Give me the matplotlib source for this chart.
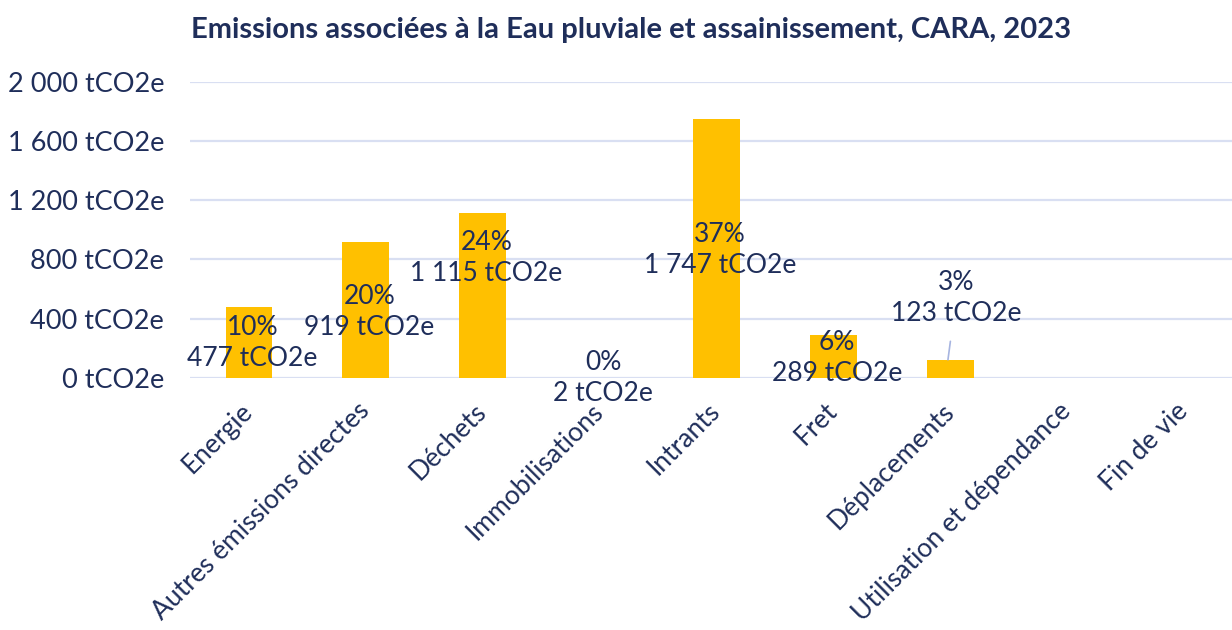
"""Emissions associées à l'eau pluviale et assainissement (CARA, 2023) — barres par poste."""

import matplotlib

matplotlib.use("Agg")
import matplotlib.pyplot as plt

POSTES = [
    "Energie",
    "Autres émissions directes",
    "Déchets",
    "Immobilisations",
    "Intrants",
    "Fret",
    "Déplacements",
    "Utilisation et dépendance",
    "Fin de vie",
]
EMISSIONS = [477, 919, 1115, 2, 1747, 289, 123, 0, 0]  # tCO2e
PARTS = [10, 20, 24, 0, 37, 6, 3, None, None]  # % du total
GRADUATIONS = [0, 400, 800, 1200, 1600, 2000]

# position verticale (centre) des étiquettes, en tCO2e, telle que placée dans Excel
ETIQ_Y = [236, 444, 808, 0, 862, 135, 539]

NAVY = "#1F2E5A"
JAUNE = "#FFC000"
GRILLE = "#D9DFF2"

plt.rcParams["font.family"] = ["Lato", "DejaVu Sans"]


def fmt(v):
    return f"{v:,}".replace(",", " ") + " tCO2e"


fig = plt.figure(figsize=(12.32, 6.3), dpi=100)
ax = fig.add_axes([0.1546, 0.4, 0.8454, 0.4703])

x = list(range(len(POSTES)))
ax.bar(x, EMISSIONS, width=0.4, color=JAUNE, zorder=2)

ax.set_ylim(0, 2000)
ax.set_xlim(-0.5, 8.41)
ax.set_yticks(GRADUATIONS)
ax.set_yticklabels([fmt(v) for v in GRADUATIONS])
ax.yaxis.grid(True, color=GRILLE, lw=1.6, zorder=0)
ax.set_axisbelow(True)
for s in ax.spines.values():
    s.set_visible(False)
ax.tick_params(axis="y", length=0, pad=19, labelsize=19.5, labelcolor=NAVY)
ax.tick_params(axis="x", length=0, pad=21, labelsize=19, labelcolor=NAVY)
ax.set_xticks(x)
ax.set_xticklabels(POSTES, rotation=45, ha="right", va="center", rotation_mode="anchor")

# étiquettes de données
for i, (v, p, ey) in enumerate(zip(EMISSIONS, PARTS, ETIQ_Y)):
    txt = f"{p}%\n{fmt(v)}"
    if POSTES[i] == "Déplacements":
        ax.annotate(
            txt, xy=(i - 0.02, v), xytext=(i + 0.05, ey), ha="center", va="center",
            fontsize=19, color=NAVY, linespacing=1.3,
            arrowprops=dict(arrowstyle="-", color="#A6B4E0", lw=1.2, shrinkA=9, shrinkB=0),
        )
    else:
        ax.text(i + 0.03, ey, txt, ha="center", va="center", fontsize=19,
                color=NAVY, linespacing=1.3, zorder=3)

fig.text(0.512, 0.952, "Emissions associées à la Eau pluviale et assainissement, CARA, 2023",
         ha="center", va="center", fontsize=21, fontweight="bold", color=NAVY)

fig.savefig("out.png", dpi=100)
